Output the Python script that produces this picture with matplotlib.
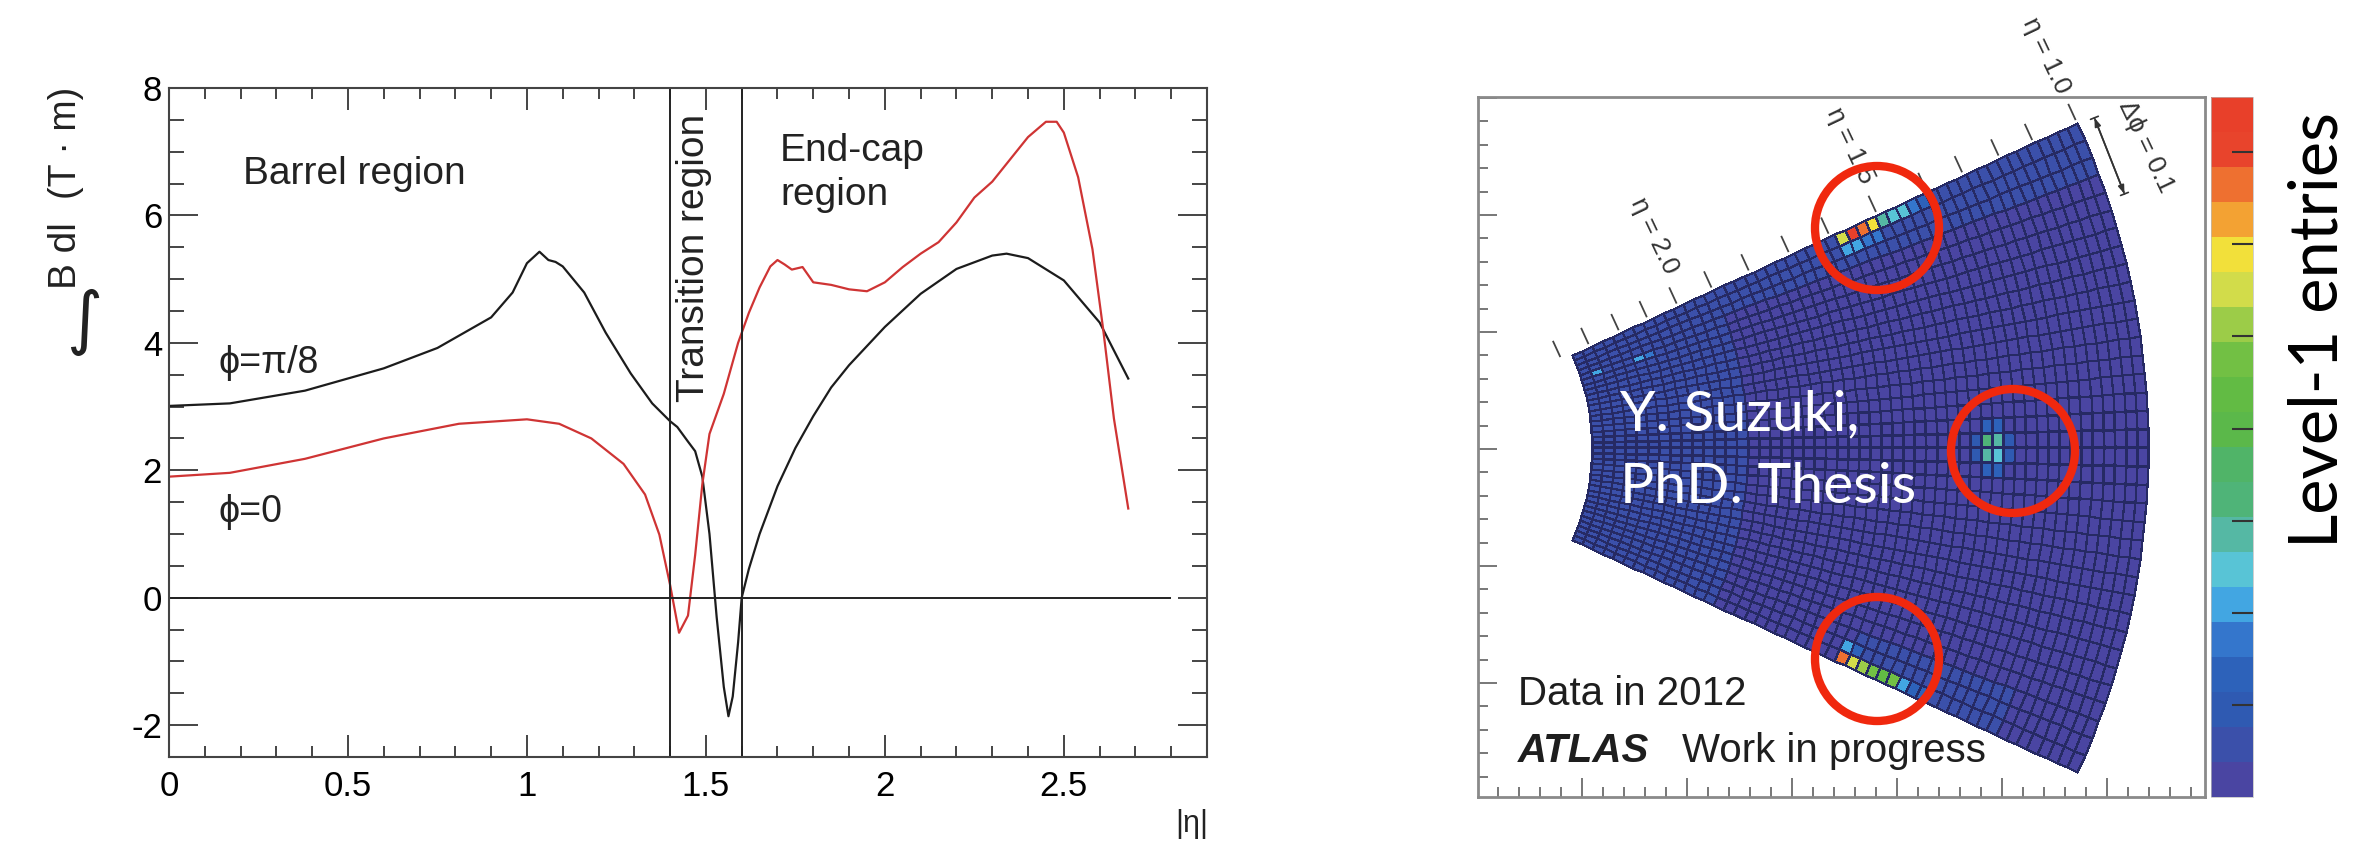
import numpy as np
import matplotlib
matplotlib.use('Agg')
import matplotlib.pyplot as plt
from matplotlib.colors import ListedColormap, BoundaryNorm
from matplotlib.patches import Ellipse
from matplotlib.ticker import MultipleLocator

plt.rcParams['font.family'] = ['Liberation Sans', 'DejaVu Sans']
plt.rcParams['axes.unicode_minus'] = False

W, H = 2369, 843

# ---- left panel: field integral vs |eta| ----
black_eta = [0.0, 0.17, 0.38, 0.6, 0.75, 0.9, 0.96, 1.0, 1.035, 1.06, 1.08, 1.1, 1.16, 1.22,
             1.29, 1.35, 1.4, 1.42, 1.45, 1.47, 1.49, 1.51, 1.53, 1.55, 1.563, 1.575, 1.59, 1.6,
             1.62, 1.65, 1.7, 1.75, 1.8, 1.85, 1.9, 2.0, 2.1, 2.2, 2.3, 2.34, 2.4, 2.5, 2.6, 2.68]
black_val = [3.01, 3.05, 3.25, 3.6, 3.92, 4.4, 4.79, 5.25, 5.43, 5.3, 5.27, 5.2, 4.79, 4.16,
             3.52, 3.05, 2.77, 2.68, 2.45, 2.3, 1.9, 1.0, -0.3, -1.4, -1.86, -1.55, -0.7, 0.0,
             0.45, 1.0, 1.75, 2.35, 2.85, 3.3, 3.65, 4.25, 4.77, 5.16, 5.37, 5.40, 5.33, 4.98, 4.32, 3.44]

red_eta = [0.0, 0.17, 0.38, 0.6, 0.81, 1.0, 1.09, 1.18, 1.27, 1.33, 1.37, 1.4, 1.425, 1.45,
           1.47, 1.49, 1.51, 1.55, 1.59, 1.62, 1.65, 1.68, 1.70, 1.72, 1.74, 1.77, 1.80, 1.85,
           1.90, 1.95, 2.0, 2.05, 2.1, 2.15, 2.2, 2.25, 2.3, 2.34, 2.4, 2.45, 2.48, 2.5, 2.54,
           2.58, 2.61, 2.64, 2.68]
red_val = [1.90, 1.96, 2.18, 2.5, 2.73, 2.80, 2.73, 2.5, 2.1, 1.62, 0.99, 0.2, -0.55, -0.28,
           0.67, 1.78, 2.57, 3.2, 4.0, 4.47, 4.87, 5.2, 5.3, 5.23, 5.15, 5.19, 4.95, 4.91,
           4.84, 4.81, 4.95, 5.19, 5.40, 5.58, 5.89, 6.28, 6.53, 6.81, 7.23, 7.47, 7.47, 7.30, 6.60,
           5.47, 4.21, 2.81, 1.40]

region_bounds = [1.4, 1.6]
zero_line_end = 2.8
x_ticks = [0, 0.5, 1, 1.5, 2, 2.5]
x_tick_labels = ['0', '0.5', '1', '1.5', '2', '2.5']
y_ticks = [-2, 0, 2, 4, 6, 8]
y_tick_labels = ['-2', '0', '2', '4', '6', '8']

# ---- right panel: Level-1 entries in one sector ----
n_rows, n_cols = 36, 50
eta_out, eta_in = 1.0, 2.29
phi_half = 0.431
base_entries = 15
# (first_row, last_row, first_col, last_col, entries)
bg_zones = [
    (0, 35, 36, 49, 55),
    (0, 2, 0, 35, 55),
    (33, 35, 8, 22, 55),
]
# (row, col, entries)
hot_cells = [
    (0, 23, 550), (0, 22, 745), (0, 21, 660), (0, 20, 590), (0, 19, 290), (0, 18, 245),
    (0, 17, 245), (0, 16, 160), (0, 15, 120),
    (1, 23, 200), (1, 22, 200), (1, 21, 180), (1, 20, 160),
    (17, 14, 320), (17, 13, 290), (18, 14, 280), (18, 13, 240),
    (16, 13, 130), (16, 14, 130), (19, 13, 130), (19, 14, 130),
    (17, 15, 100), (18, 15, 100), (17, 12, 100), (18, 12, 100),
    (35, 23, 660), (35, 22, 545), (35, 21, 515), (35, 20, 460), (35, 19, 420), (35, 18, 470),
    (35, 17, 200), (35, 16, 150), (35, 15, 120),
    (34, 23, 200), (34, 22, 130),
    (4, 48, 200), (4, 44, 190), (4, 43, 180),
]
level_colors = ['#4a45a2', '#3b50aa', '#2f5ab2', '#2d62ba', '#3476cc', '#42a6e2', '#58c4d6',
                '#55b8a4', '#4fb478', '#50b468', '#5bb84a', '#62bb44', '#72c044', '#9ccc48',
                '#d2dc4a', '#f2e03a', '#f3a233', '#ee7030', '#e8442c', '#e8402a']
entries_max = 760
cb_ticks = [100, 200, 300, 400, 500, 600, 700]
eta_marks = [1.0, 1.111, 1.197, 1.290, 1.383, 1.510, 1.631, 1.733, 1.835, 1.930,
             2.019, 2.095, 2.167, 2.244, 2.316]
eta_labels = [2.0, 1.5, 1.0]

# sector geometry (pixels of the drawing, apex at origin)
r_out, r_per_eta = 777.0, 431.0


def fx(x):
    return x / W


def fy(y):
    return 1 - y / H


fig = plt.figure(figsize=(W / 100, H / 100), dpi=100)

# ================= left panel =================
ax = fig.add_axes([fx(169), fy(757), (1207 - 169) / W, (757 - 88) / H])
ax.plot(black_eta, black_val, color='#1c1c1c', lw=1.6)
ax.plot(red_eta, red_val, color='#cf3434', lw=1.6)
for b in region_bounds:
    ax.axvline(b, color='#222222', lw=1.4)
ax.hlines(0, 0, zero_line_end, color='#222222', lw=1.4)
ax.set_xlim(0, 2.9)
ax.set_ylim(-2.5, 8)
ax.set_xticks(x_ticks, labels=x_tick_labels)
ax.set_yticks(y_ticks, labels=y_tick_labels)
ax.xaxis.set_minor_locator(MultipleLocator(0.1))
ax.yaxis.set_minor_locator(MultipleLocator(0.5))
ax.tick_params(axis='x', which='major', direction='in', length=16, width=1.4, top=True,
               color='#444444', labelsize=25, pad=9)
ax.tick_params(axis='x', which='minor', direction='in', length=8, width=1.4, top=True,
               color='#444444')
ax.tick_params(axis='y', which='major', direction='in', length=21, width=1.4, right=True,
               color='#444444', labelsize=25, pad=5)
ax.tick_params(axis='y', which='minor', direction='in', length=11, width=1.4, right=True,
               color='#444444')
for s in ax.spines.values():
    s.set_color('#444444')
    s.set_linewidth(1.5)

fig.text(fx(243), fy(184), 'Barrel region', fontsize=28, va='baseline', color='#222222')
fig.text(fx(780), fy(161), 'End-cap', fontsize=28, va='baseline', color='#222222')
fig.text(fx(780), fy(205), 'region', fontsize=28, va='baseline', color='#222222')
fig.text(fx(694), fy(258), 'Transition region', fontsize=28, rotation=90,
         ha='center', va='center', color='#222222')
fig.text(fx(218), fy(373), '\u03d5=\u03c0/8', fontsize=27, va='baseline', color='#222222')
fig.text(fx(218), fy(522), '\u03d5=0', fontsize=27, va='baseline', color='#222222')
fig.text(fx(1208), fy(832), '|\u03b7|', fontsize=22, ha='right', va='baseline', color='#222222')

fig.text(fx(76), fy(143), '(T \u00b7 m)', fontsize=27, rotation=90, rotation_mode='anchor',
         ha='center', va='baseline', color='#222222')
fig.text(fx(76), fy(256), 'B dl', fontsize=28, rotation=90, rotation_mode='anchor',
         ha='center', va='baseline', color='#222222')
fig.text(fx(84), fy(322), '\u222b', fontsize=50, ha='center', va='center',
         family='DejaVu Sans', color='#222222')

# ================= right panel =================
ax2 = fig.add_axes([fx(1478), fy(797), 727 / W, 700 / H])
ax2.set_xlim(107, 834)
ax2.set_ylim(-349.5, 350.5)

entries = np.full((n_rows, n_cols), base_entries, dtype=float)
for r0, r1, c0, c1, v in bg_zones:
    entries[r0:r1 + 1, c0:c1 + 1] = v
for r, c, v in hot_cells:
    entries[r, c] = v

eta_edges = np.linspace(eta_out, eta_in, n_cols + 1)
phi_edges = np.linspace(phi_half, -phi_half, n_rows + 1)
PHI, ETA = np.meshgrid(phi_edges, eta_edges, indexing='ij')
R = r_out - r_per_eta * (ETA - 1.0)
X = R * np.cos(PHI)
Y = R * np.sin(PHI)

cmap = ListedColormap(level_colors)
norm = BoundaryNorm(np.linspace(0, entries_max, len(level_colors) + 1), cmap.N)
mesh = ax2.pcolormesh(X, Y, entries, cmap=cmap, norm=norm,
                      edgecolors='#262a64', linewidth=0.9)

# eta marks along the upper edge of the sector
nx, ny = -np.sin(phi_half), np.cos(phi_half)
for e in eta_marks:
    rr = r_out - r_per_eta * (e - 1.0)
    px, py = rr * np.cos(phi_half), rr * np.sin(phi_half)
    ax2.plot([px + 4 * nx, px + 20 * nx], [py + 4 * ny, py + 20 * ny],
             color='#444444', lw=1.3, clip_on=False)
for e in eta_labels:
    rr = r_out - r_per_eta * (e - 1.0)
    px, py = rr * np.cos(phi_half), rr * np.sin(phi_half)
    ax2.text(px + 74 * nx, py + 74 * ny, '\u03b7 = %.1f' % e, fontsize=19,
             rotation=-64.6, rotation_mode='anchor', ha='center', va='center',
             color='#333333', clip_on=False)

# delta-phi marker
a0, a1, rm = np.radians(24.5), np.radians(18.6), 795
p0 = (rm * np.cos(a0), rm * np.sin(a0))
p1 = (rm * np.cos(a1), rm * np.sin(a1))
ax2.annotate('', xy=p1, xytext=p0, annotation_clip=False,
             arrowprops=dict(arrowstyle='<|-|>,head_length=0.5,head_width=0.18',
                             color='#333333', lw=1.2, shrinkA=0, shrinkB=0))
ax2.annotate('', xy=p1, xytext=p0, annotation_clip=False,
             arrowprops=dict(arrowstyle='|-|,widthA=0.3,widthB=0.3',
                             color='#333333', lw=1.2, shrinkA=0, shrinkB=0))
rl, al = 831, np.radians(21.2)
ax2.text(rl * np.cos(al), rl * np.sin(al), '\u0394\u03d5 = 0.1', fontsize=19,
         rotation=-64.6, rotation_mode='anchor', ha='center', va='center',
         color='#333333', clip_on=False)

ax2.xaxis.set_major_locator(MultipleLocator(105, offset=1))
ax2.xaxis.set_minor_locator(MultipleLocator(21, offset=1))
ax2.yaxis.set_major_locator(MultipleLocator(117, offset=-1.5))
ax2.yaxis.set_minor_locator(MultipleLocator(23.4, offset=-1.5))
ax2.tick_params(which='major', direction='in', length=14, width=1.4, color='#777777',
                labelbottom=False, labelleft=False)
ax2.tick_params(which='minor', direction='in', length=7, width=1.4, color='#777777')
for s in ax2.spines.values():
    s.set_color('#8a8a8a')
    s.set_linewidth(2)

fig.text(fx(1518), fy(705), 'Data in 2012', fontsize=29, va='baseline', color='#1e1e1e')
fig.text(fx(1518), fy(762), 'ATLAS', fontsize=29, va='baseline', weight='bold',
         style='italic', color='#1e1e1e')
fig.text(fx(1682), fy(762), 'Work in progress', fontsize=29, va='baseline', color='#1e1e1e')

fig.text(fx(1620), fy(430), 'Y. Suzuki,', fontsize=41, va='baseline', color='white',
         family=['Lato', 'DejaVu Sans'])
fig.text(fx(1620), fy(503), 'PhD. Thesis', fontsize=41, va='baseline', color='white',
         family=['Lato', 'DejaVu Sans'])

for cx, cy in [(1877, 228), (2013, 451), (1877, 659)]:
    fig.add_artist(Ellipse((fx(cx), fy(cy)), width=124 / W, height=124 / H,
                           transform=fig.transFigure, fill=False,
                           edgecolor='#f0280e', lw=6))

# colour scale
cax = fig.add_axes([fx(2211), fy(797), 42 / W, 700 / H])
cb = fig.colorbar(mesh, cax=cax, ticks=cb_ticks)
cb.outline.set_linewidth(0.5)
cb.outline.set_edgecolor('#bbbbbb')
cax.tick_params(direction='in', length=15, width=1.5, color='#333333', labelright=False)
cax.minorticks_off()

fig.text(fx(2318), fy(330), 'Level-1 entries', fontsize=48, rotation=90, ha='center',
         va='center', family=['Lato', 'DejaVu Sans'], color='black')

fig.savefig('out.png', dpi=100)
